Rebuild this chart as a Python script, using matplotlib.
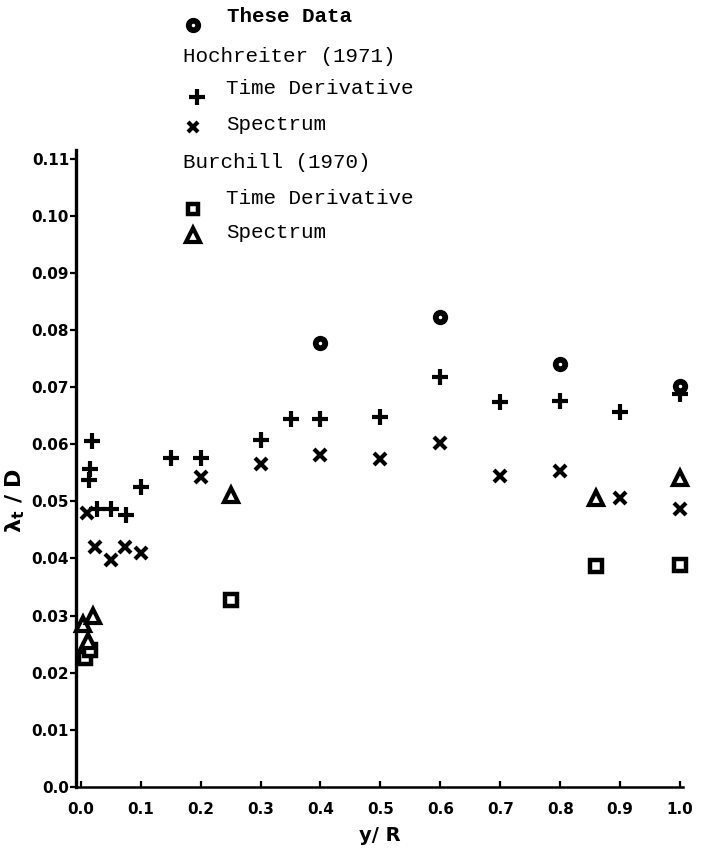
import numpy as np
import matplotlib
matplotlib.use("Agg")
from matplotlib import pyplot as plt

# These Data
these_x = [0.4, 0.6, 0.8, 1.0]
these_y = [0.0778, 0.0822, 0.0741, 0.0702]

# Hochreiter (1971) - time derivative
hoch_td_x = [0.018, 0.015, 0.014, 0.027, 0.05, 0.076, 0.1, 0.15, 0.2, 0.3,
             0.35, 0.4, 0.5, 0.6, 0.7, 0.8, 0.9, 1.0]
hoch_td_y = [0.0605, 0.0556, 0.0537, 0.0486, 0.0487, 0.0477, 0.0526, 0.0576,
             0.0576, 0.0607, 0.0644, 0.0644, 0.0647, 0.0717, 0.0674, 0.0676,
             0.0657, 0.0688]

# Hochreiter (1971) - spectrum
hoch_sp_x = [0.01, 0.024, 0.05, 0.074, 0.1, 0.2, 0.3, 0.4, 0.5, 0.6, 0.7,
             0.8, 0.9, 1.0]
hoch_sp_y = [0.0480, 0.0420, 0.0397, 0.0420, 0.0410, 0.0543, 0.0566, 0.0581,
             0.0574, 0.0603, 0.0544, 0.0553, 0.0506, 0.0487]

# Burchill (1970) - time derivative
bur_td_x = [0.007, 0.016, 0.25, 0.86, 1.0]
bur_td_y = [0.0226, 0.0240, 0.0327, 0.0386, 0.0388]

# Burchill (1970) - spectrum
bur_sp_x = [0.004, 0.02, 0.012, 0.25, 0.86, 1.0]
bur_sp_y = [0.0286, 0.0300, 0.0256, 0.0511, 0.0506, 0.0541]

x_ticks = np.round(np.arange(0, 1.01, 0.1), 1)
x_labels = ["0.0", "0.1", "0.2", "0.3", "0.4", "0.5", "0.6", "0.7", "0.8", "0.9", "1.0"]
y_ticks = np.round(np.arange(0, 0.111, 0.01), 2)
y_labels = ["0.0", "0.01", "0.02", "0.03", "0.04", "0.05", "0.06", "0.07",
            "0.08", "0.09", "0.10", "0.11"]

fig = plt.figure(figsize=(7.01, 8.51), dpi=100)
ax = fig.add_axes([0.1084, 0.0752, 0.866, 0.7485])

ax.plot(these_x, these_y, 'o', color='black', ms=10, zorder=4, clip_on=False)
ax.plot(these_x, these_y, 'o', color='white', ms=1.5, zorder=5, clip_on=False)
ax.plot(hoch_td_x, hoch_td_y, '+', color='black', ms=11, mew=3, zorder=3, clip_on=False)
ax.plot(hoch_sp_x, hoch_sp_y, 'x', color='black', ms=8.5, mew=3, zorder=3, clip_on=False)
ax.plot(bur_td_x, bur_td_y, 's', mfc='white', mec='black', ms=8, mew=3.2, zorder=3, clip_on=False)
ax.plot(bur_sp_x, bur_sp_y, '^', mfc='white', mec='black', ms=10, mew=3, zorder=3, clip_on=False)

ax.set_xlim(-0.008, 1.005)
ax.set_ylim(0, 0.1115)
ax.spines['top'].set_visible(False)
ax.spines['right'].set_visible(False)
ax.spines['left'].set_linewidth(2.4)
ax.spines['bottom'].set_linewidth(1.8)

ax.set_xticks(x_ticks)
ax.set_xticklabels(x_labels, fontsize=11, fontweight='bold')
ax.set_yticks(y_ticks)
ax.set_yticklabels(y_labels, fontsize=11, fontweight='bold')
ax.tick_params(axis='x', direction='in', length=4, width=1.6, pad=11)
ax.tick_params(axis='y', direction='out', length=4, width=1.6, pad=1)

ax.set_xlabel("y/ R", fontsize=14, fontweight='bold', labelpad=6)
ax.set_ylabel(r"$\mathbf{\lambda_t}$ / D", fontsize=16, fontweight='bold', labelpad=0)
ax.yaxis.set_label_coords(-0.08, 0.45)

# legend block drawn above the plot
W, H = 701.0, 851.0
def fx(px):
    return px / W
def fy(py):
    return 1 - py / H

mono = 'Liberation Mono'
fs = 15
fig.text(fx(227), fy(16), "These Data", family=mono, fontsize=fs, fontweight='bold', va='center')
fig.text(fx(183), fy(57), "Hochreiter (1971)", family=mono, fontsize=fs, va='center')
fig.text(fx(226), fy(89), "Time Derivative", family=mono, fontsize=fs, va='center')
fig.text(fx(226), fy(124), "Spectrum", family=mono, fontsize=fs, va='center')
fig.text(fx(183), fy(163), "Burchill (1970)", family=mono, fontsize=fs, va='center')
fig.text(fx(226), fy(198), "Time Derivative", family=mono, fontsize=fs, va='center')
fig.text(fx(226), fy(233), "Spectrum", family=mono, fontsize=fs, va='center')

leg = fig.add_axes([0, 0, 1, 1], facecolor='none')
leg.set_xlim(0, W)
leg.set_ylim(H, 0)
leg.axis('off')
leg.plot([193], [25], 'o', color='black', ms=10)
leg.plot([193], [25], 'o', color='white', ms=1.5)
leg.plot([197], [97], '+', color='black', ms=11, mew=3)
leg.plot([193], [127], 'x', color='black', ms=7.5, mew=3)
leg.plot([193], [209], 's', mfc='white', mec='black', ms=7.5, mew=3.2)
leg.plot([193], [235], '^', mfc='white', mec='black', ms=9.5, mew=3)

fig.savefig("out.png", dpi=100)
